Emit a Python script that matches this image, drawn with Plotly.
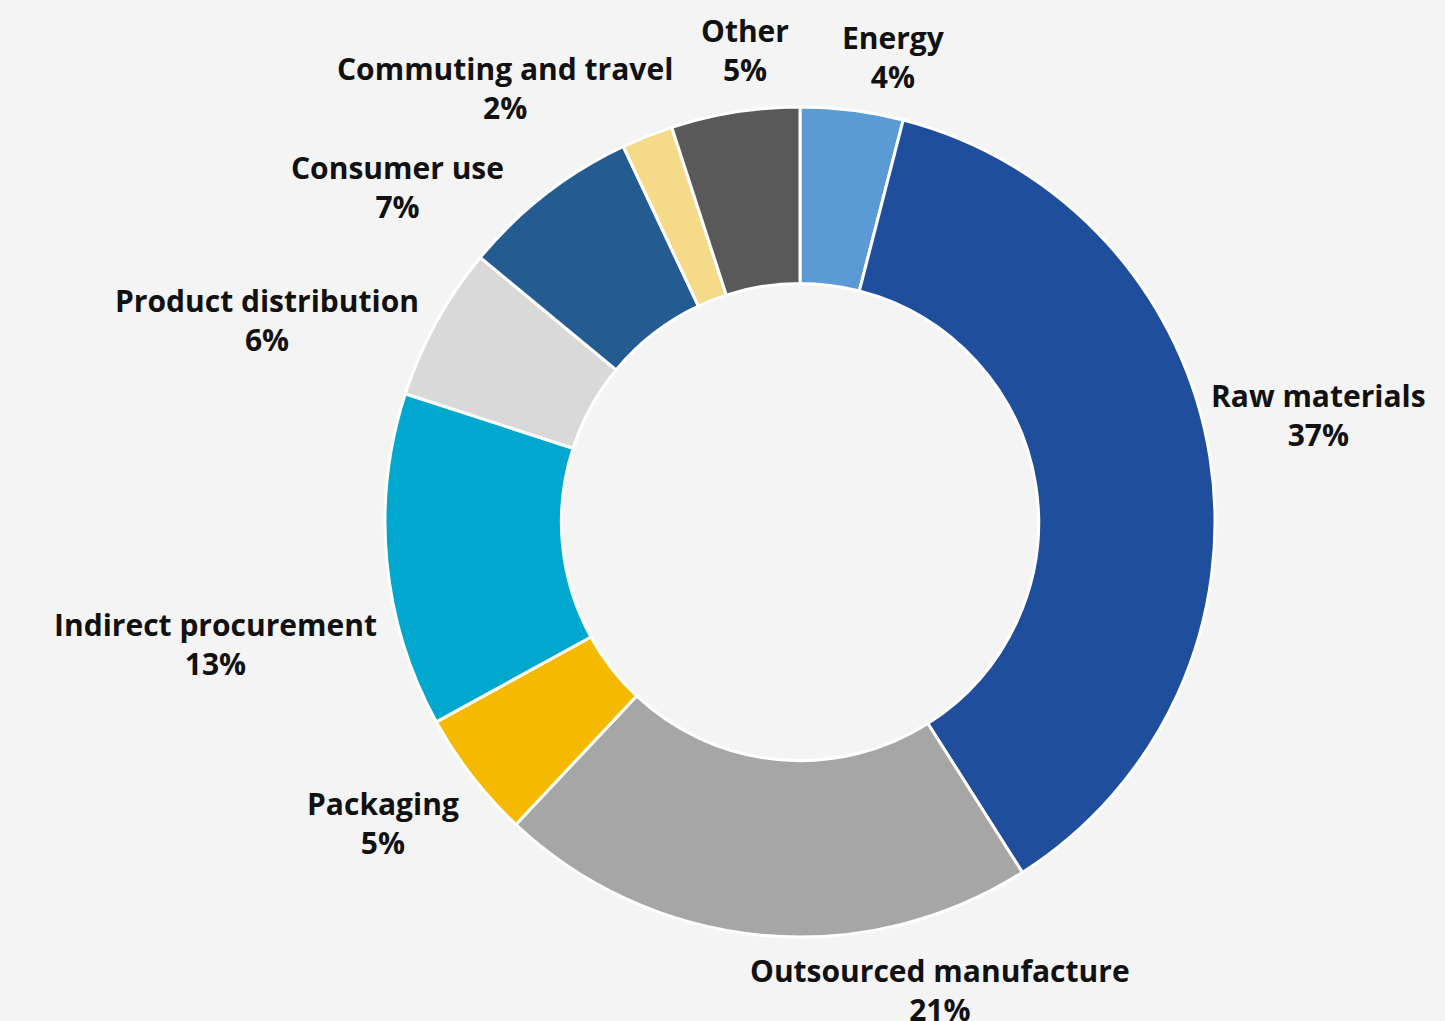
import plotly.graph_objects as go

# Emission sources, clockwise from 12 o'clock
categories = [
    "Energy", "Raw materials", "Outsourced manufacture", "Packaging",
    "Indirect procurement", "Product distribution", "Consumer use",
    "Commuting and travel", "Other",
]
shares = [4, 37, 21, 5, 13, 6, 7, 2, 5]
colors = [
    "#5B9BD5", "#1F4E9C", "#A6A6A6", "#F5BA00",
    "#00A8D0", "#D9D9D9", "#245C92", "#F5DA8A", "#595959",
]

# Label anchor points (pixels from the top-left of the canvas)
label_px = [
    (893, 57), (1318, 415), (940, 990), (383, 823),
    (215, 644), (267, 320), (397, 187), (505, 88), (745, 50),
]

W, H = 1445, 1021
cx, cy, r = 800, 522, 415

fig = go.Figure(go.Pie(
    labels=categories,
    values=shares,
    sort=False,
    direction="clockwise",
    rotation=0,
    hole=0.575,
    marker=dict(colors=colors, line=dict(color="#FFFFFF", width=3)),
    textinfo="none",
    showlegend=False,
    domain=dict(x=[(cx - r) / W, (cx + r) / W],
                y=[1 - (cy + r) / H, 1 - (cy - r) / H]),
))

for name, val, (px, py) in zip(categories, shares, label_px):
    fig.add_annotation(
        x=px / W, y=1 - py / H, xref="paper", yref="paper",
        text=f"<b>{name}<br>{val}%</b>", showarrow=False,
        xanchor="center", yanchor="middle", align="center",
        font=dict(family="Open Sans", size=30, color="#111111"),
    )

fig.update_layout(
    width=W, height=H,
    margin=dict(l=0, r=0, t=0, b=0),
    paper_bgcolor="#F4F4F4",
    plot_bgcolor="#F4F4F4",
)

fig.write_html("out.html")
